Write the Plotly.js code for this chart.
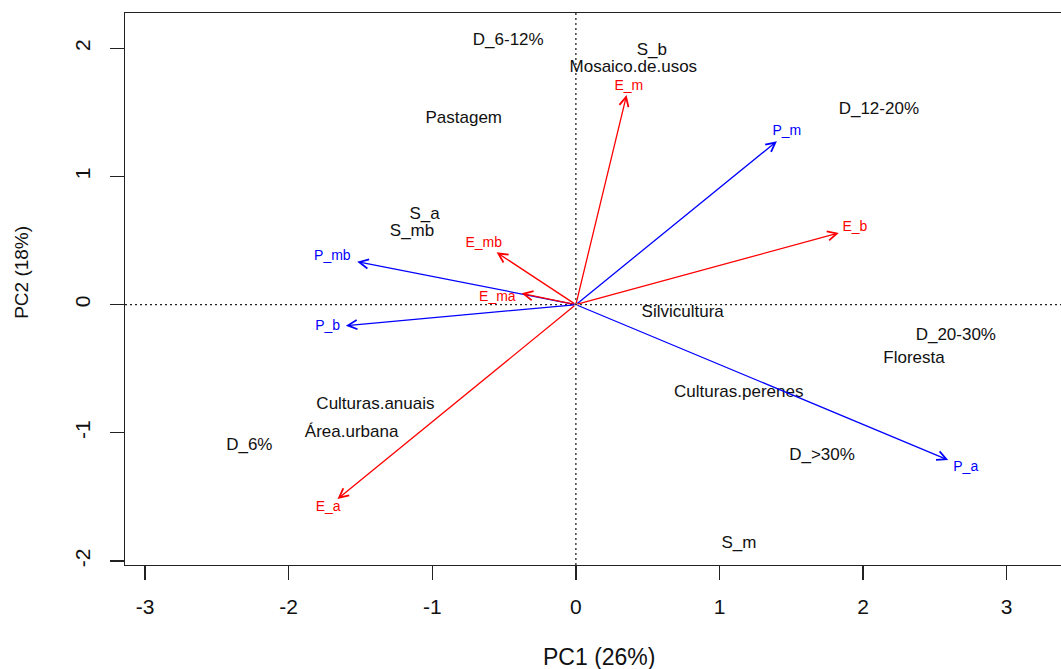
<!DOCTYPE html>
<html><head><meta charset="utf-8">
<script src="https://cdn.plot.ly/plotly-3.0.1.min.js"></script>
<style>html,body{margin:0;padding:0;overflow:hidden;background:#fff;}#chart{width:1080px;height:669px;}</style>
</head><body><div id="chart"></div>
<script>
// Observation (category) labels and their PC scores
const obsLabels = ['D_6-12%','S_b','Mosaico.de.usos','Pastagem','D_12-20%','S_a','S_mb','Silvicultura','D_20-30%','Floresta','Culturas.perenes','Culturas.anuais','Área.urbana','D_6%','D_>30%','S_m'];
const obsX = [-0.471, 0.529, 0.400, -0.781, 2.110, -1.054, -1.141, 0.744, 2.646, 2.355, 1.134, -1.396, -1.562, -2.274, 1.714, 1.135];
const obsY = [2.060, 1.982, 1.849, 1.450, 1.517, 0.701, 0.572, -0.062, -0.241, -0.423, -0.690, -0.779, -1.000, -1.099, -1.176, -1.868];

// Variable loadings (arrows)
const varLabels = ['E_m','P_m','E_b','E_mb','P_mb','E_ma','P_b','E_a','P_a'];
const varGroup  = ['E','P','E','E','P','E','P','E','P'];
const arrowX = [0.353, 1.400, 1.831, -0.552, -1.523, -0.378, -1.602, -1.660, 2.593];
const arrowY = [1.635, 1.275, 0.559, 0.408, 0.335, 0.088, -0.164, -1.516, -1.212];
const varLabelX = [0.369, 1.469, 1.943, -0.642, -1.696, -0.547, -1.729, -1.725, 2.715];
const varLabelY = [1.703, 1.353, 0.605, 0.474, 0.374, 0.058, -0.169, -1.584, -1.267];

const xTicks = [-3,-2,-1,0,1,2,3];
const xTickText = ['-3','-2','-1','0','1','2','3'];
const yTicks = [-2,-1,0,1,2];
const yTickText = ['-2','-1','0','1','2'];

const groupColor = {E:'#FF0000', P:'#0000FF'};
const FONT = 'Liberation Sans, Arial, Helvetica, sans-serif';

const traces = [
  {
    type:'scatter', mode:'text', x:obsX, y:obsY, text:obsLabels,
    textposition:'middle center', textfont:{family:FONT, size:17, color:'#111'},
    hoverinfo:'skip', showlegend:false, cliponaxis:false
  },
  {
    type:'scatter', mode:'text', x:varLabelX, y:varLabelY, text:varLabels,
    textposition:'middle center',
    textfont:{family:FONT, size:14, color:varGroup.map(g=>groupColor[g])},
    hoverinfo:'skip', showlegend:false, cliponaxis:false
  }
];

const annotations = arrowX.map((x,i)=>({
  x:x, y:arrowY[i], xref:'x', yref:'y', ax:0, ay:0, axref:'x', ayref:'y',
  text:'', showarrow:true, arrowhead:5, arrowsize:1.4, arrowwidth:1.3,
  arrowcolor:groupColor[varGroup[i]], standoff:0, startstandoff:0
}));

annotations.push({
  text:'PC1 (26%)', xref:'paper', yref:'paper', x:0.5, y:-0.1667,
  xanchor:'center', yanchor:'middle', showarrow:false,
  font:{family:FONT, size:23, color:'#111'}
});
annotations.push({
  text:'PC2 (18%)', xref:'paper', yref:'paper', x:-0.1087, y:0.531,
  xanchor:'center', yanchor:'middle', showarrow:false, textangle:-90,
  font:{family:FONT, size:19, color:'#111'}
});

const layout = {
  width:1080, height:669,
  margin:{l:125, r:7, t:13, b:104, pad:0},
  paper_bgcolor:'#fff', plot_bgcolor:'#fff',
  font:{family:FONT, color:'#111'},
  showlegend:false,
  xaxis:{
    range:[-3.14, 3.462], tickvals:xTicks, ticktext:xTickText,
    showline:true, mirror:true, linecolor:'#222', linewidth:1.3,
    ticks:'outside', ticklen:14, tickwidth:1.3, tickcolor:'#222',
    showgrid:false, zeroline:false, tickfont:{family:FONT, size:21, color:'#111'},
    ticklabelstandoff:8, fixedrange:true
  },
  yaxis:{
    range:[-2.031, 2.275], tickvals:yTicks, ticktext:yTickText, tickangle:-90,
    showline:true, mirror:true, linecolor:'#222', linewidth:1.3,
    ticks:'outside', ticklen:14, tickwidth:1.3, tickcolor:'#222',
    showgrid:false, zeroline:false, tickfont:{family:FONT, size:21, color:'#111'},
    ticklabelstandoff:11, fixedrange:true
  },
  shapes:[
    {type:'line', xref:'x', yref:'paper', x0:0, x1:0, y0:0, y1:1, line:{color:'#222', width:1.3, dash:'2px,3px'}, layer:'below'},
    {type:'line', xref:'paper', yref:'y', x0:0, x1:1, y0:0, y1:0, line:{color:'#222', width:1.3, dash:'2px,3px'}, layer:'below'}
  ],
  annotations:annotations
};

Plotly.newPlot('chart', traces, layout, {staticPlot:true, displayModeBar:false});
</script>
</body></html>
